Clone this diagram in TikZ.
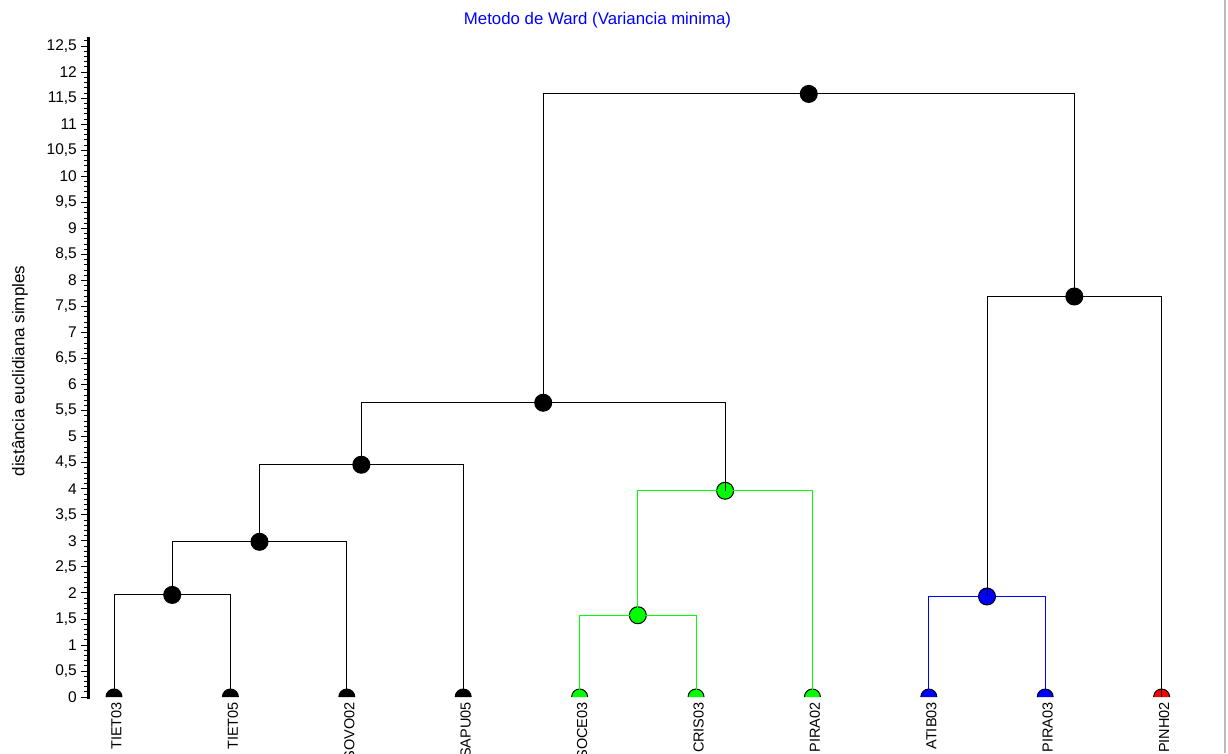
\documentclass[tikz,border=0pt]{standalone}
\usepackage{fontspec}
\setmainfont{Liberation Sans}
\usetikzlibrary{positioning}
\definecolor{wgreen}{RGB}{0,255,0}

\begin{document}
\begin{tikzpicture}[x=1pt, y=1pt,
    merge/.style={circle, draw=black, line width=1pt, minimum size=17pt, inner sep=0pt},
    leaflab/.style={rotate=90, anchor=east, inner sep=0pt, font=\fontsize{14.5}{16}\selectfont},
    ticklab/.style={anchor=east, inner sep=0pt, font=\fontsize{15.5}{18}\selectfont},
    link/.style={line width=1pt}]
  \useasboundingbox (0,0) rectangle (1228,753);
  \draw[gray!55, line width=2pt] (1225,0) -- (1225,753);
  \node (title) at (597.5,733) [text=blue, font=\fontsize{16.8}{19}\selectfont] {Metodo de Ward (Variancia minima)};
  \node (ylab) at (20,382) [rotate=90, font=\fontsize{17}{19}\selectfont] {distância euclidiana simples};

  \begin{scope}[yshift=56pt, y=52.08pt]
    % axis
    \draw[line width=3pt] (88,-0.03) -- (88,12.67);
    \foreach \i in {0,...,126}
      \draw[line width=0.7pt] (84,\i/10) -- (88,\i/10);
    \foreach \i in {0,...,25} {
      \ifodd\i \edef\t{\the\numexpr(\i-1)/2\relax,5}\else \edef\t{\the\numexpr\i/2\relax}\fi
      \draw[line width=0.7pt] (81,\i/2) -- (88,\i/2);
      \node[ticklab] (tk-\i) at (77,\i/2) {\t};
    }

    % leaves
    \foreach \t/\c [count=\k] in {TIET03/black, TIET05/black, SOVO02/black, SAPU05/black,
        SOCE03/wgreen, CRIS03/wgreen, PIRA02/wgreen, ATIB03/blue, PIRA03/blue, PINH02/red} {
      \coordinate (l\k) at ({114+116.4*(\k-1)},0);
      \path[fill=\c, draw=black, line width=1pt] (l\k) ++(-8pt,0) arc[start angle=180, end angle=0, radius=8pt];
      \node[leaflab] (t\k) at ([xshift=2.5pt, yshift=-5pt]l\k) {\t};
    }

    % merges
    \node[merge, fill=black]  (d1) at (172.2,1.96) {};
    \node[merge, fill=black]  (d2) at (259.5,2.98) {};
    \node[merge, fill=black]  (d3) at (361.35,4.46) {};
    \node[merge, fill=wgreen] (d4) at (637.8,1.57) {};
    \node[merge, fill=wgreen] (d5) at (725.1,3.96) {};
    \node[merge, fill=black]  (d6) at (543.2,5.65) {};
    \node[merge, fill=blue]   (d7) at (987,1.93) {};
    \node[merge, fill=black]  (d8) at (1074.3,7.69) {};
    \node[merge, fill=black]  (d9) at (808.75,11.58) {};

    \draw[link] (l1) |- (d1.center) -| (l2);
    \draw[link] (d1.center) |- (d2.center) -| (l3);
    \draw[link] (d2.center) |- (d3.center) -| (l4);
    \draw[link, wgreen] (l5) |- (d4.center) -| (l6);
    \draw[link, wgreen] (d4.center) |- (d5.center) -| (l7);
    \draw[link] (d3.center) |- (d6.center) -| (d5.center);
    \draw[link, blue] (l8) |- (d7.center) -| (l9);
    \draw[link] (d7.center) |- (d8.center) -| (l10);
    \draw[link] (d6.center) |- (d9.center) -| (d8.center);
  \end{scope}
\end{tikzpicture}
\end{document}
